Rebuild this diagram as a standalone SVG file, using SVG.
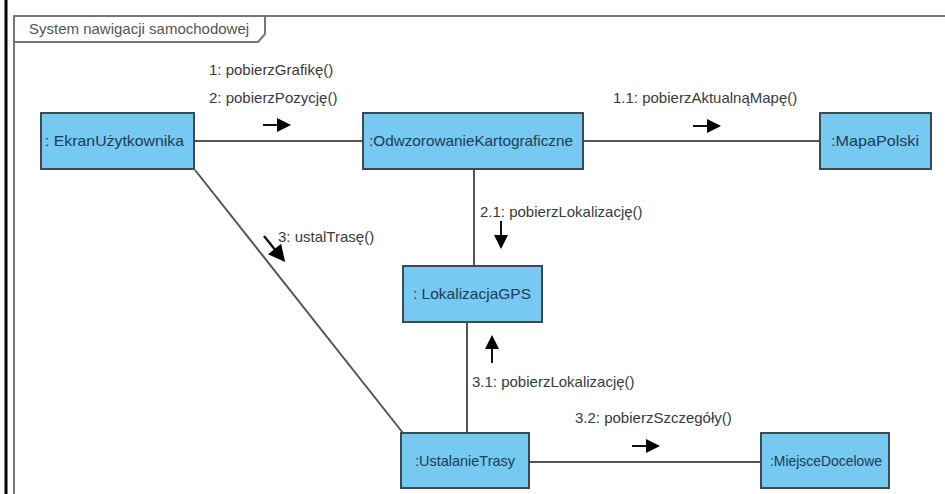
<svg xmlns="http://www.w3.org/2000/svg" width="945" height="494" viewBox="0 0 945 494">
  <style>
    .node rect { fill: #76c9f0; stroke: #3c4a56; stroke-width: 2; }
    .node text { font-family: "Liberation Sans", Arial, sans-serif; font-size: 15px; fill: #1f3b55; }
    .link { stroke: #555555; stroke-width: 2; fill: none; }
    .msg { font-family: "Liberation Sans", Arial, sans-serif; font-size: 15px; fill: #3a3a3a; }
    .arr line { stroke: #111111; stroke-width: 2; }
    .arr polygon { fill: #000000; }
  </style>
  <defs>
    <!-- message arrow pointing along +x, origin at the tail -->
    <g id="msgArrow" class="arr">
      <line x1="0" y1="0" x2="16" y2="0"/>
      <polygon points="14,-7 28,0 14,7"/>
    </g>
  </defs>

  <rect x="0" y="0" width="945" height="494" fill="#ffffff"/>

  <!-- outer page edge and package frame -->
  <line x1="6" y1="0" x2="6" y2="494" stroke="#000000" stroke-width="3"/>
  <g id="frame" fill="none" stroke="#777777" stroke-width="2">
    <polyline points="14,494 14,16 945,16"/>
    <polyline points="14,42 258,42 265,34 265,16"/>
  </g>
  <text x="29" y="34" font-family="Liberation Sans, Arial, sans-serif" font-size="15" fill="#555555">System nawigacji samochodowej</text>

  <!-- connectors -->
  <g id="connectors">
    <line class="link" x1="194" y1="141" x2="363" y2="141"/>
    <line class="link" x1="583" y1="141" x2="820" y2="141"/>
    <line class="link" x1="474" y1="169" x2="474" y2="266"/>
    <line class="link" x1="467" y1="322" x2="467" y2="433"/>
    <line class="link" x1="529" y1="462" x2="761" y2="462"/>
    <line class="link" x1="195" y1="170" x2="403" y2="433"/>

    <!-- message arrows -->
    <use href="#msgArrow" transform="translate(263,125)"/>
    <use href="#msgArrow" transform="translate(693,126)"/>
    <use href="#msgArrow" transform="translate(501,221) rotate(90)"/>
    <use href="#msgArrow" transform="translate(492,363) rotate(-90)"/>
    <use href="#msgArrow" transform="translate(632,446)"/>
    <use href="#msgArrow" transform="translate(264,236) rotate(51) scale(1.2)"/>

    <!-- message labels -->
    <text class="msg" x="209" y="75">1: pobierzGrafikę()</text>
    <text class="msg" x="209" y="103">2: pobierzPozycję()</text>
    <text class="msg" x="613" y="103">1.1: pobierzAktualnąMapę()</text>
    <text class="msg" x="480" y="217">2.1: pobierzLokalizację()</text>
    <text class="msg" x="278" y="242">3: ustalTrasę()</text>
    <text class="msg" x="472" y="387">3.1: pobierzLokalizację()</text>
    <text class="msg" x="575" y="423">3.2: pobierzSzczegóły()</text>
  </g>

  <!-- lifeline objects -->
  <g id="ekran" class="node">
    <rect x="41" y="113" width="153" height="56"/>
    <text x="45" y="146" textLength="139" lengthAdjust="spacingAndGlyphs">: EkranUżytkownika</text>
  </g>
  <g id="odwzorowanie" class="node">
    <rect x="363" y="113" width="220" height="56"/>
    <text x="369" y="146" textLength="204" lengthAdjust="spacingAndGlyphs">:OdwzorowanieKartograficzne</text>
  </g>
  <g id="mapa" class="node">
    <rect x="820" y="113" width="111" height="56"/>
    <text x="831" y="146" textLength="88" lengthAdjust="spacingAndGlyphs">:MapaPolski</text>
  </g>
  <g id="lokalizacja" class="node">
    <rect x="403" y="266" width="139" height="56"/>
    <text x="413" y="299" textLength="118" lengthAdjust="spacingAndGlyphs">: LokalizacjaGPS</text>
  </g>
  <g id="ustalanie" class="node">
    <rect x="401" y="433" width="128" height="55"/>
    <text x="415" y="466" textLength="100" lengthAdjust="spacingAndGlyphs">:UstalanieTrasy</text>
  </g>
  <g id="miejsce" class="node">
    <rect x="761" y="433" width="128" height="55"/>
    <text x="770" y="466" textLength="112" lengthAdjust="spacingAndGlyphs">:MiejsceDocelowe</text>
  </g>
</svg>
